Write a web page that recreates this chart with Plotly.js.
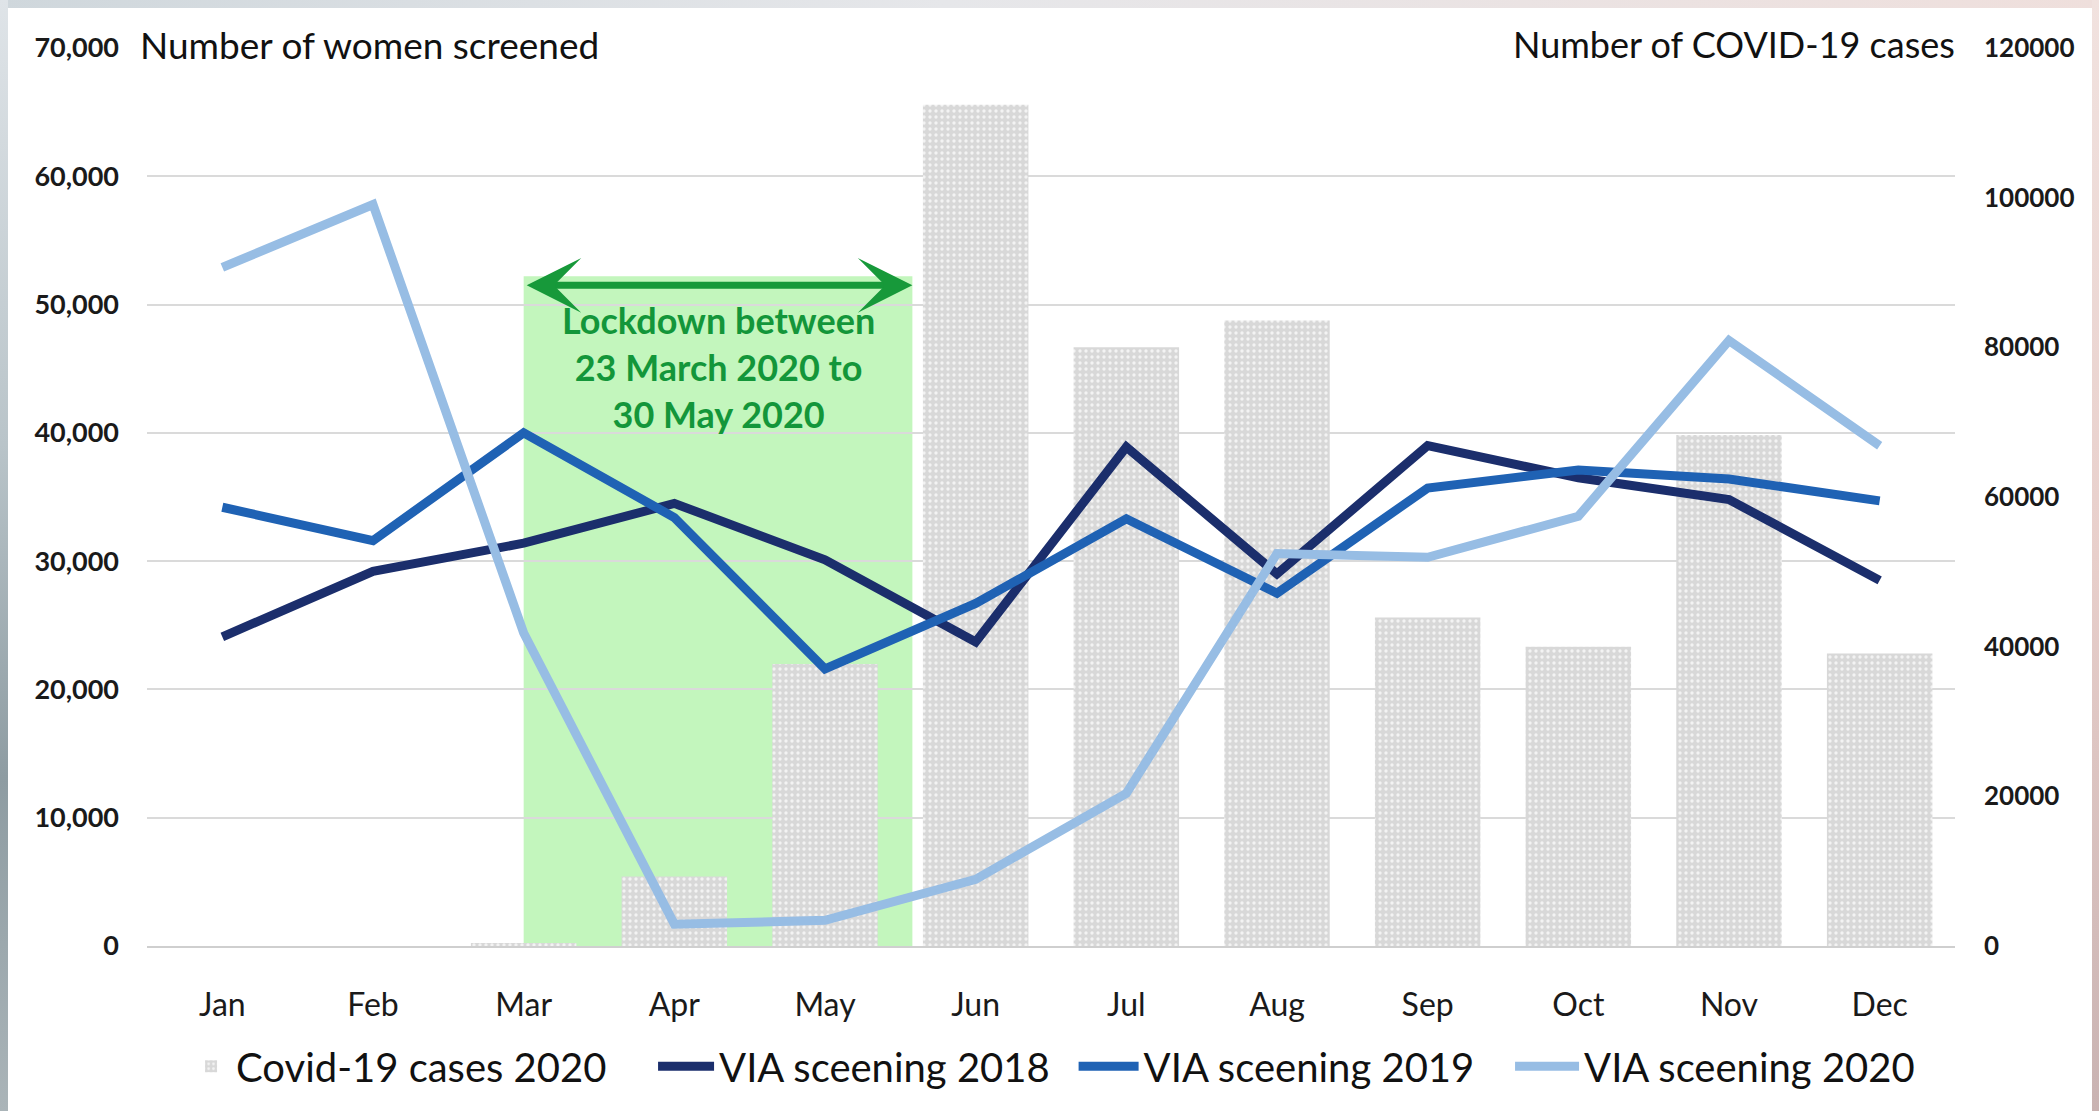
<!DOCTYPE html>
<html>
<head>
<meta charset="utf-8">
<script src="https://cdn.plot.ly/plotly-3.0.1.min.js"></script>
<style>
  html, body { margin: 0; padding: 0; width: 2099px; height: 1111px; overflow: hidden; }
  body { background: linear-gradient(to right, #cfd7dc 0%, #e6e7ea 45%, #efdfdc 100%); position: relative; }
  #leftband { position: absolute; left: 0; top: 0; width: 8px; height: 1111px;
    background: linear-gradient(to bottom, #dfe4e8 0%, #b9c4c9 40%, #8e9ca2 70%, #aab4b8 100%); }
  #rightband { position: absolute; right: 0; top: 0; width: 7px; height: 1111px;
    background: linear-gradient(to bottom, #f1e2df 0%, #e8cfcb 50%, #c9b3b2 100%); }
  #chart { position: absolute; left: 8px; top: 8px; width: 2084px; height: 1103px; background: #fff; }
</style>
</head>
<body>
<div id="leftband"></div>
<div id="rightband"></div>
<div id="chart"></div>
<script>
// ---- data ----
var months = ['Jan','Feb','Mar','Apr','May','Jun','Jul','Aug','Sep','Oct','Nov','Dec'];
var covid2020 = [0, 0, 400, 9300, 37700, 112400, 80000, 83600, 43900, 40000, 68300, 39100];
var via2018 = [24100, 29200, 31400, 34500, 30100, 23700, 38900, 29000, 39000, 36500, 34800, 28500];
var via2019 = [34200, 31600, 40000, 33400, 21600, 26700, 33300, 27500, 35700, 37100, 36400, 34700];
var via2020 = [52900, 57800, 24400, 1700, 2000, 5200, 11900, 30600, 30300, 33500, 47200, 39000];
var seriesNames = ['Covid-19 cases 2020', 'VIA sceening 2018', 'VIA sceening 2019', 'VIA sceening 2020'];
var leftTicks = [0, 10000, 20000, 30000, 40000, 50000, 60000, 70000];
var rightTicks = [0, 20000, 40000, 60000, 80000, 100000, 120000];
var lockdownStart = 2.0, lockdownEnd = 4.58;      // category index positions
var lockdownTop = 52200, arrowLevel = 51500, lockdownTextLevel = 45100;
var lockdownText = 'Lockdown between<br>23 March 2020 to<br>30 May 2020';
var leftTitle = 'Number of women screened';
var rightTitle = 'Number of COVID-19 cases';

var FONT = 'Lato, "Open Sans", sans-serif';

var traces = [
  { type: 'bar', name: seriesNames[0], x: months, y: covid2020, xaxis: 'x', yaxis: 'y',
    legend: 'legend', width: 0.7,
    marker: { color: '#d8d8d8', line: { width: 0 },
      pattern: { shape: '.', fillmode: 'replace', bgcolor: '#d8d8d8', fgcolor: '#f3f3f3', size: 6, solidity: 0.25 } } },
  { type: 'scatter', mode: 'lines', name: seriesNames[1], x: months, y: via2018, xaxis: 'x', yaxis: 'y2',
    legend: 'legend2', line: { color: '#1b2e6c', width: 9 } },
  { type: 'scatter', mode: 'lines', name: seriesNames[2], x: months, y: via2019, xaxis: 'x', yaxis: 'y2',
    legend: 'legend3', line: { color: '#1f62b4', width: 9 } },
  { type: 'scatter', mode: 'lines', name: seriesNames[3], x: months, y: via2020, xaxis: 'x', yaxis: 'y2',
    legend: 'legend4', line: { color: '#97bde4', width: 9 } }
];

function legendAt(xp, iw) {
  return { orientation: 'h', x: xp, xanchor: 'left', y: -0.134, yanchor: 'middle',
    font: { family: FONT, size: 40, color: '#111' }, itemwidth: iw,
    bgcolor: 'rgba(0,0,0,0)', borderwidth: 0 };
}

var layout = {
  width: 2084, height: 1103,
  margin: { l: 139, r: 137, t: 40, b: 161, pad: 0 },
  paper_bgcolor: '#ffffff', plot_bgcolor: 'rgba(0,0,0,0)',
  font: { family: FONT, color: '#1a1a1a' },
  showlegend: true,
  legend: legendAt(0.0216, 40),
  legend2: legendAt(0.2799, 56),
  legend3: legendAt(0.5125, 60),
  legend4: legendAt(0.7539, 64),
  xaxis: { type: 'category', range: [-0.5, 11.5], showgrid: false, zeroline: false,
    showline: true, linecolor: '#cfcfcf', linewidth: 2, ticks: '', ticklabelstandoff: 30,
    tickfont: { family: FONT, size: 32, color: '#1a1a1a' } },
  yaxis: { side: 'right', range: [0, 120000], tickvals: rightTicks,
    ticktext: rightTicks.map(function(v){ return String(v); }),
    showgrid: false, zeroline: false, showline: false, ticks: '', ticklabelstandoff: 28,
    tickfont: { family: FONT, size: 26, color: '#1a1a1a', weight: 700 } },
  yaxis2: { overlaying: 'y', side: 'left', range: [0, 70000], tickvals: leftTicks,
    tickformat: ',d', showgrid: true, gridcolor: '#dadada', gridwidth: 2, zeroline: false,
    showline: false, ticks: '', ticklabelstandoff: 27,
    tickfont: { family: FONT, size: 27, color: '#1a1a1a', weight: 700 } },
  shapes: [
    { type: 'rect', layer: 'below', xref: 'x', yref: 'y2', x0: lockdownStart, x1: lockdownEnd,
      y0: 0, y1: lockdownTop, fillcolor: '#c3f6bd', line: { width: 0 } }
  ],
  annotations: [
    { xref: 'x', yref: 'y2', x: lockdownEnd, y: arrowLevel, axref: 'x', ayref: 'y2',
      ax: lockdownStart + 0.01, ay: arrowLevel, text: '', showarrow: true,
      arrowside: 'end+start', arrowhead: 3, startarrowhead: 3, arrowsize: 1.3, startarrowsize: 1.3,
      arrowwidth: 7, arrowcolor: '#17993a', standoff: 0, startstandoff: 0 },
    { xref: 'x', yref: 'y2', x: (lockdownStart + lockdownEnd) / 2, y: lockdownTextLevel,
      text: lockdownText, showarrow: false, xanchor: 'center', yanchor: 'middle', align: 'center',
      font: { family: FONT, size: 36, color: '#13963a', weight: 700 } },
    { xref: 'paper', yref: 'paper', x: -0.005, y: 1.0044, xanchor: 'left', yanchor: 'middle',
      text: leftTitle, showarrow: false, font: { family: FONT, size: 37, color: '#111' } },
    { xref: 'paper', yref: 'paper', x: 1.0011, y: 1.0044, xanchor: 'right', yanchor: 'middle',
      text: rightTitle, showarrow: false, font: { family: FONT, size: 36, color: '#111' } }
  ]
};

Plotly.newPlot('chart', traces, layout, { staticPlot: true, displayModeBar: false });
</script>
</body>
</html>
